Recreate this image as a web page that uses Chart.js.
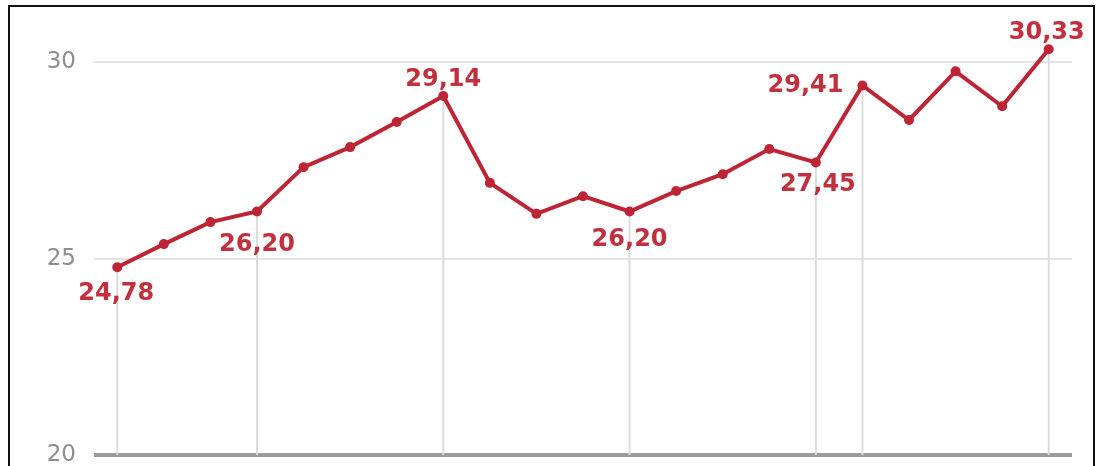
<!DOCTYPE html>
<html>
<head>
<meta charset="utf-8">
<script src="https://cdn.jsdelivr.net/npm/chart.js@4.4.1/dist/chart.umd.min.js"></script>
<style>
  html, body { margin: 0; padding: 0; background: #fff; }
  #wrap { position: relative; width: 1098px; height: 466px; overflow: hidden; }
  #frame { position: absolute; left: 8px; top: 5px; width: 1083px; height: 600px;
           border: 2px solid #111; border-bottom: none; pointer-events: none; }
  #wrap canvas { position: absolute; left: 0; top: 0; }
</style>
</head>
<body>
<div id="wrap">
  <canvas id="trend" width="1098" height="466"></canvas>
  <div id="frame"></div>
</div>
<script>
// data
var periods = ['1','2','3','4','5','6','7','8','9','10','11','12','13','14','15','16','17','18','19','20','21'];
var values  = [24.78, 25.37, 25.93, 26.20, 27.33, 27.84, 28.48, 29.14, 26.93, 26.14, 26.59,
               26.20, 26.72, 27.15, 27.79, 27.45, 29.41, 28.53, 29.77, 28.88, 30.33];
var marked  = [0, 3, 7, 11, 15, 16, 20];
var yTicks  = [20, 25, 30];

var red = '#bd2534';

// where each value label sits relative to its point
var labelPos = {
  0:  { dx: -1,  dy: 26,  align: 'center' },
  3:  { dx: 0,   dy: 33,  align: 'center' },
  7:  { dx: 0,   dy: -16, align: 'center' },
  11: { dx: 0,   dy: 28,  align: 'center' },
  15: { dx: 2,   dy: 22,  align: 'center' },
  16: { dx: -19, dy: 0,   align: 'right' },
  20: { dx: -2,  dy: -17, align: 'center' }
};

var markers = {
  id: 'markers',
  beforeDatasetsDraw: function(chart) {
    var ctx = chart.ctx,
        meta = chart.getDatasetMeta(0),
        bottom = chart.chartArea.bottom;
    ctx.save();
    ctx.strokeStyle = '#dcdcdc';
    ctx.lineWidth = 2;
    marked.forEach(function(i) {
      var p = meta.data[i];
      ctx.beginPath();
      ctx.moveTo(p.x, p.y);
      ctx.lineTo(p.x, bottom);
      ctx.stroke();
    });
    ctx.restore();
  },
  afterDatasetsDraw: function(chart) {
    var ctx = chart.ctx,
        meta = chart.getDatasetMeta(0);
    ctx.save();
    ctx.font = 'bold 24px "DejaVu Sans"';
    ctx.fillStyle = '#c0303d';
    ctx.textBaseline = 'middle';
    marked.forEach(function(i) {
      var p = meta.data[i],
          pos = labelPos[i],
          text = values[i].toFixed(2).replace('.', ',');
      ctx.textAlign = pos.align;
      ctx.fillText(text, p.x + pos.dx, p.y + pos.dy);
    });
    ctx.restore();
  }
};

new Chart(document.getElementById('trend'), {
  type: 'line',
  data: {
    labels: periods,
    datasets: [{
      data: values,
      borderColor: red,
      backgroundColor: red,
      borderWidth: 4,
      pointRadius: 5,
      pointBackgroundColor: red,
      pointBorderWidth: 0,
      tension: 0
    }]
  },
  plugins: [markers],
  options: {
    responsive: false,
    animation: false,
    layout: { padding: { left: 0, right: 26, top: 23, bottom: 11 } },
    plugins: {
      legend: { display: false },
      tooltip: { enabled: false }
    },
    scales: {
      x: {
        display: false,
        offset: true
      },
      y: {
        min: 20,
        max: 31,
        afterBuildTicks: function(scale) {
          scale.ticks = yTicks.map(function(v) { return { value: v }; });
        },
        afterFit: function(scale) {
          scale.width = 94;
          scale.paddingTop = 0;
          scale.paddingBottom = 0;
        },
        border: { display: false },
        grid: {
          drawTicks: false,
          color: function(c) { return c.tick && c.tick.value === 20 ? '#9b9b9b' : '#e4e4e4'; },
          lineWidth: function(c) { return c.tick && c.tick.value === 20 ? 4 : 2; }
        },
        ticks: {
          padding: 18,
          color: '#8e8e8e',
          font: { family: 'DejaVu Sans', size: 23, lineHeight: 1 }
        }
      }
    }
  }
});
</script>
</body>
</html>
